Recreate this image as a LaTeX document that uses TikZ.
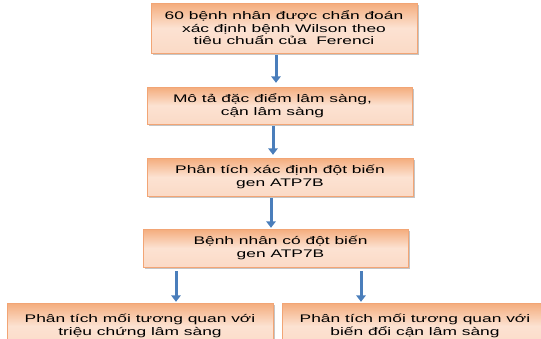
\documentclass[tikz,border=0pt]{standalone}
\usepackage{fontspec}
\setmainfont{Liberation Sans}
\newfontfamily\boxfont[FakeStretch=1.58]{Liberation Sans}
\usetikzlibrary{arrows.meta,shadows,calc}
\definecolor{orTop}{HTML}{F4AC7C}
\definecolor{orMid}{HTML}{FCE2D2}
\definecolor{orBot}{HTML}{FBDAC6}
\definecolor{orEdge}{HTML}{F2A575}
\definecolor{arrBlue}{HTML}{4A7EBB}
\tikzset{
  flowbox/.style={rectangle, draw=orEdge, line width=0.4pt,
    top color=orTop, bottom color=orBot, middle color=orMid,
    drop shadow={shadow xshift=2pt, shadow yshift=-2pt, fill=black!45, opacity=0.5},
    align=center, inner sep=0pt,
    font=\boxfont\fontsize{11}{12.5}\selectfont},
  flowarr/.style={draw=arrBlue, line width=3pt,
    -{Triangle[width=9.5pt,length=6.5pt]}},
}
\begin{document}
\begin{tikzpicture}[x=1pt,y=1pt]
\useasboundingbox (0,0) rectangle (541,-338);
\node[flowbox, minimum width=266pt, minimum height=50pt] (b1) at (284,-28)
  {60 bệnh nhân được chẩn đoán\\xác định bệnh Wilson theo\\tiêu chuẩn của~ Ferenci};
\node[flowbox, minimum width=265pt, minimum height=37pt] (b2) at (279.5,-105.5)
  {Mô tả đặc điểm lâm sàng,\hspace*{14pt}\\cận lâm sàng\hspace*{14pt}};
\node[flowbox, minimum width=266pt, minimum height=38pt] (b3) at (280,-177)
  {Phân tích xác định đột biến\\gen ATP7B};
\node[flowbox, minimum width=265pt, minimum height=38pt] (b4) at (275.5,-248)
  {\hspace*{10pt}Bệnh nhân có đột biến\\\hspace*{10pt}gen ATP7B};
\node[flowbox, minimum width=266pt, minimum height=46pt] (b5) at (140,-326)
  {Phân tích mối tương quan với\\triệu chứng lâm sàng};
\node[flowbox, minimum width=266pt, minimum height=46pt] (b6) at (415,-326)
  {Phân tích mối tương quan với\\biến đổi cận lâm sàng};
\draw[flowarr] ($(b1.south)+(-8,-2)$) -- ($(b2.north)+(-3.5,4)$);
\draw[flowarr] ($(b2.south)+(-6.5,-2)$) -- ($(b3.north)+(-7,3)$);
\draw[flowarr] ($(b3.south)+(-9,-2)$) -- ($(b4.north)+(-4.5,1)$);
\draw[flowarr] ($(b4.south)+(-99.5,-4)$) -- ($(b5.north)+(36,1)$);
\draw[flowarr] ($(b4.south)+(85.5,-4)$) -- ($(b6.north)+(-54,1)$);
\end{tikzpicture}
\end{document}
